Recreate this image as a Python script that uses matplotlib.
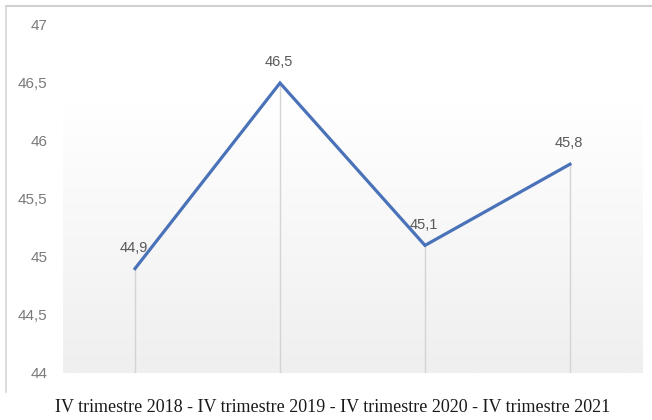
import matplotlib
matplotlib.use("Agg")
import matplotlib.pyplot as plt
import numpy as np
from matplotlib.lines import Line2D

# data
periods = ["IV trimestre 2018", "IV trimestre 2019", "IV trimestre 2020", "IV trimestre 2021"]
values = [44.9, 46.5, 45.1, 45.8]
y_ticks = [44, 44.5, 45, 45.5, 46, 46.5, 47]

LINE = "#4a72b8"
TICK_GREY = "#7a7a7a"
LABEL_GREY = "#595959"


def fmt(v):
    s = f"{v:g}"
    return s.replace(".", ",")


fig = plt.figure(figsize=(6.52, 4.2), dpi=100)
fig.patch.set_facecolor("white")

# outer chart frame: only the top and left edges show in the reference
W, H = 652, 420
fig.add_artist(Line2D([6 / W, 1.0], [(H - 6) / H] * 2, transform=fig.transFigure,
                      color="#d0d0d0", lw=1.5))
fig.add_artist(Line2D([6 / W] * 2, [(H - 6) / H, (H - 392) / H], transform=fig.transFigure,
                      color="#d6d6d6", lw=1.2))

ax = fig.add_axes([62.5 / W, (H - 373) / H, 580 / W, 348 / H])
x = np.arange(len(values))
ax.set_xlim(-0.5, len(values) - 0.5)
ax.set_ylim(y_ticks[0], y_ticks[-1])

# soft vertical gradient in the plot area: white at top, light grey at bottom
grad = np.linspace(0, 1, 256)
grad = np.clip((grad - 0.22) / 0.78, 0, 1)[:, None]
cmap = matplotlib.colors.LinearSegmentedColormap.from_list("bg", ["#ffffff", "#efefef"])
ax.imshow(grad, aspect="auto", cmap=cmap, origin="upper",
          extent=[-0.5, len(values) - 0.5, y_ticks[0], y_ticks[-1]], zorder=0)

# drop lines from each point to the floor
ax.vlines(x, y_ticks[0], values, color="#d4d4d4", lw=1, zorder=1)

ax.plot(x, values, color=LINE, lw=2.3, solid_joinstyle="miter", zorder=3)

for xi, v in zip(x, values):
    ax.annotate(fmt(v), (xi, v), xytext=(-1, 10), textcoords="offset points",
                ha="center", va="bottom", fontsize=10.5, color=LABEL_GREY,
                family="Liberation Sans", zorder=4)

ax.set_yticks(y_ticks)
ax.set_yticklabels([fmt(t) for t in y_ticks], family="Liberation Sans",
                   fontsize=11, color=TICK_GREY)
ax.tick_params(axis="y", length=0, pad=11)
ax.set_xticks([])
for sp in ax.spines.values():
    sp.set_visible(False)

fig.text(333 / W, (H - 407) / H, " - ".join(periods), ha="center", va="center",
         family="Liberation Serif", fontsize=13, color="#1a1a1a")

fig.savefig("out.png", dpi=100)
